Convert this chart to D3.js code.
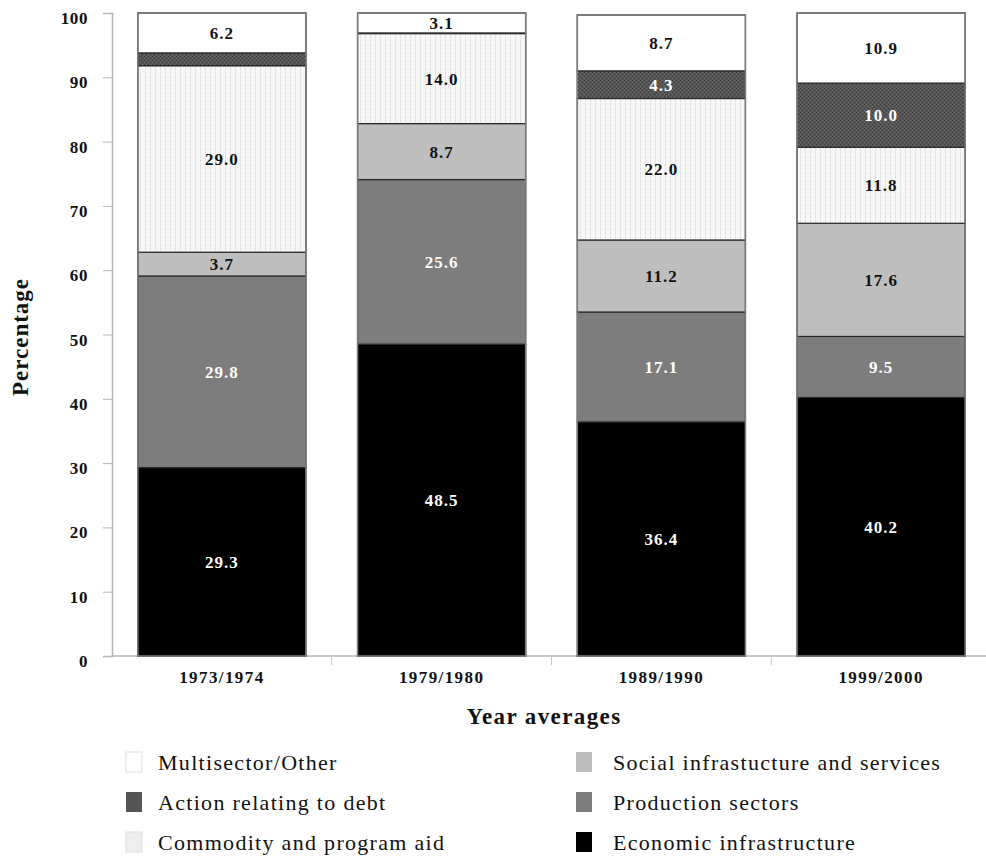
<!DOCTYPE html>
<html>
<head>
<meta charset="utf-8">
<script src="https://cdn.jsdelivr.net/npm/d3@7"></script>
<style>
  html, body { margin: 0; padding: 0; background: #fff; }
  svg { display: block; }
  text { font-family: "Liberation Serif", "DejaVu Serif", serif; }
</style>
</head>
<body>
<svg id="chart" width="986" height="858"></svg>
<script>
// Shares of aid by sector, averaged over each period (percent)
const periods = ["1973/1974", "1979/1980", "1989/1990", "1999/2000"];
const economicInfrastructure = [29.3, 48.5, 36.4, 40.2];
const productionSectors      = [29.8, 25.6, 17.1, 9.5];
const socialInfrastructure   = [3.7, 8.7, 11.2, 17.6];
const commodityProgramAid    = [29.0, 14.0, 22.0, 11.8];
const debtAction             = [2.0, 0.1, 4.3, 10.0];
const multisectorOther       = [6.2, 3.1, 8.7, 10.9];
const yTicks = [0, 10, 20, 30, 40, 50, 60, 70, 80, 90, 100];

// Stack order, bottom to top
const seriesKeys = ["econ", "prod", "social", "commodity", "debt", "multi"];
const seriesValues = {
  econ: economicInfrastructure,
  prod: productionSectors,
  social: socialInfrastructure,
  commodity: commodityProgramAid,
  debt: debtAction,
  multi: multisectorOther
};
const seriesNames = {
  multi: "Multisector/Other",
  debt: "Action relating to debt",
  commodity: "Commodity and program aid",
  social: "Social infrastucture and services",
  prod: "Production sectors",
  econ: "Economic infrastructure"
};
const fills = {
  econ: "#000000",
  prod: "#7d7d7d",
  social: "#bebebe",
  commodity: "url(#stripes)",
  debt: "url(#grain)",
  multi: "#ffffff"
};
const labelColor = {
  econ: "#fff", prod: "#fff", social: "#111", commodity: "#111", debt: "#fff", multi: "#111"
};

const rows = periods.map((p, i) => {
  const r = { period: p };
  seriesKeys.forEach(k => r[k] = seriesValues[k][i]);
  return r;
});

const svg = d3.select("#chart");
const defs = svg.append("defs");

// light dotted vertical stripes
const st = defs.append("pattern").attr("id", "stripes")
  .attr("patternUnits", "userSpaceOnUse").attr("width", 5).attr("height", 4);
st.append("rect").attr("width", 5).attr("height", 4).attr("fill", "#f7f7f7");
st.append("rect").attr("x", 0).attr("width", 1).attr("height", 2).attr("fill", "#dedede");
st.append("rect").attr("x", 0).attr("y", 2).attr("width", 1).attr("height", 2).attr("fill", "#ebebeb");

// dark grainy fill
const gr = defs.append("pattern").attr("id", "grain")
  .attr("patternUnits", "userSpaceOnUse").attr("width", 4).attr("height", 4);
gr.append("rect").attr("width", 4).attr("height", 4).attr("fill", "#555555");
gr.append("rect").attr("x", 0).attr("y", 0).attr("width", 1).attr("height", 1).attr("fill", "#3a3a3a");
gr.append("rect").attr("x", 2).attr("y", 2).attr("width", 1).attr("height", 1).attr("fill", "#3a3a3a");
gr.append("rect").attr("x", 2).attr("y", 0).attr("width", 1).attr("height", 1).attr("fill", "#6a6a6a");
gr.append("rect").attr("x", 0).attr("y", 2).attr("width", 1).attr("height", 1).attr("fill", "#6a6a6a");

const x = d3.scaleBand().domain(periods).range([112, 991])
  .paddingInner(0.235).paddingOuter(0.1175);
const y = d3.scaleLinear().domain([0, 100]).range([656, 13]);

// Axes
const yAxis = svg.append("g").attr("transform", "translate(112,0)")
  .call(d3.axisLeft(y).tickValues(yTicks).tickSize(9).tickPadding(15));
yAxis.select(".domain").attr("stroke", "#b5b5b5").attr("stroke-width", 1.5);
yAxis.selectAll(".tick line").attr("stroke", "#b5b5b5");
yAxis.selectAll(".tick text")
  .attr("font-family", "Liberation Serif").attr("font-weight", "bold")
  .attr("font-size", 17).attr("letter-spacing", 0.6).attr("fill", "#111").attr("dy", "0.62em");

const xg = svg.append("g");
xg.append("line").attr("x1", 112).attr("x2", 986).attr("y1", y(0)).attr("y2", y(0))
  .attr("stroke", "#b5b5b5").attr("stroke-width", 1.5);
xg.selectAll("line.tk").data(periods.slice(1)).join("line").attr("class", "tk")
  .attr("x1", p => x(p) - x.step() * x.paddingInner() / 2)
  .attr("x2", p => x(p) - x.step() * x.paddingInner() / 2)
  .attr("y1", y(0)).attr("y2", y(0) + 9)
  .attr("stroke", "#c8c8c8");
xg.selectAll("text").data(periods).join("text")
  .attr("x", p => x(p) + x.bandwidth() / 2).attr("y", 683)
  .attr("text-anchor", "middle").attr("font-weight", "bold").attr("font-size", 17)
  .attr("letter-spacing", 1.4).attr("fill", "#111").text(p => p);

// Stacked bars
const stacked = d3.stack().keys(seriesKeys)(rows);
const layers = svg.append("g").selectAll("g").data(stacked).join("g");
layers.selectAll("rect").data(s => s.map(d => ({ key: s.key, d }))).join("rect")
  .attr("x", o => x(o.d.data.period))
  .attr("width", x.bandwidth())
  .attr("y", o => y(o.d[1]))
  .attr("height", o => Math.max(0, y(o.d[0]) - y(o.d[1])))
  .attr("fill", o => fills[o.key])
  .attr("stroke", "#2a2a2a").attr("stroke-width", 1.2);

// Outer outline of each bar
svg.append("g").selectAll("rect").data(rows).join("rect")
  .attr("x", r => x(r.period)).attr("width", x.bandwidth())
  .attr("y", r => y(d3.sum(seriesKeys, k => r[k])))
  .attr("height", r => y(0) - y(d3.sum(seriesKeys, k => r[k])))
  .attr("fill", "none").attr("stroke", "#7a7a7a").attr("stroke-width", 1.5);

// Segment value labels (segments too thin for text are left unlabeled)
const labelData = [];
stacked.forEach(s => s.forEach(d => {
  const v = d.data[s.key];
  if (v >= 3) labelData.push({ key: s.key, v, mid: (d[0] + d[1]) / 2, period: d.data.period });
}));
svg.append("g").selectAll("text").data(labelData).join("text")
  .attr("x", o => x(o.period) + x.bandwidth() / 2)
  .attr("y", o => y(o.mid))
  .attr("dy", "0.35em")
  .attr("text-anchor", "middle").attr("font-weight", "bold").attr("font-size", 17)
  .attr("letter-spacing", 1)
  .attr("fill", o => labelColor[o.key])
  .text(o => o.v.toFixed(1));

// Axis titles
svg.append("text").attr("transform", "translate(28,337) rotate(-90)")
  .attr("text-anchor", "middle").attr("font-weight", "bold").attr("font-size", 23)
  .attr("letter-spacing", 1).attr("fill", "#111").text("Percentage");
svg.append("text").attr("x", 544).attr("y", 724)
  .attr("text-anchor", "middle").attr("font-weight", "bold").attr("font-size", 23)
  .attr("letter-spacing", 1.4).attr("fill", "#111").text("Year averages");

// Legend: two columns, three rows
const legendOrder = ["multi", "debt", "commodity", "social", "prod", "econ"];
const legendFill = { ...fills, commodity: "#eeeeee", debt: "#555555" };
const lg = svg.append("g").selectAll("g").data(legendOrder).join("g")
  .attr("transform", (k, i) => `translate(${i < 3 ? 126 : 576},${762 + (i % 3) * 40})`);
lg.append("rect").attr("x", 0).attr("y", -10).attr("width", 16).attr("height", 20)
  .attr("fill", k => legendFill[k])
  .attr("stroke", k => k === "multi" || k === "commodity" ? "#e0e0e0" : "none");
lg.append("text").attr("x", k => legendOrder.indexOf(k) < 3 ? 32 : 37).attr("y", 0).attr("dy", "0.35em")
  .attr("font-size", 22).attr("letter-spacing", 1.3).attr("fill", "#111").text(k => seriesNames[k]);
</script>
</body>
</html>
